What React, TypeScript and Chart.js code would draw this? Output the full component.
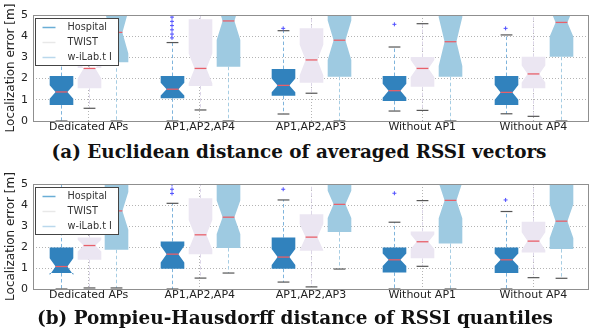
import React, { useEffect, useRef } from "react";
import { Chart, registerables } from "chart.js";

Chart.register(...registerables);
Chart.defaults.font.family = "'DejaVu Sans', sans-serif";

// ---------- data ----------
const categories = ["Dedicated APs", "AP1,AP2,AP4", "AP1,AP2,AP3", "Without AP1", "Without AP4"];
const seriesNames = ["Hospital", "TWIST", "w-iLab.t I"];
const yTickValues = [0, 1, 2, 3, 4, 5];
const yTitle = "Localization error [m]";
const captionA = "(a) Euclidean distance of averaged RSSI vectors";
const captionB = "(b) Pompieu-Hausdorff distance of RSSI quantiles";

// panel (a)
const aHospital = {
  low: [0.0, 0.0, 0.33, 0.47, 0.34],
  q1: [0.75, 1.07, 1.19, 0.94, 0.75],
  median: [1.37, 1.5, 1.68, 1.43, 1.35],
  q3: [2.12, 2.12, 2.45, 2.12, 2.12],
  high: [5.6, 3.7, 4.26, 3.49, 4.06],
  notch: [0.32, 0.3, 0.32, 0.33, 0.35],
};
const aHospitalFliers = [[], [3.92, 4.1, 4.3, 4.5, 4.7, 4.9], [4.37], [4.56], [4.37]];
const aTwist = {
  low: [0.6, 0.52, 1.31, 0.5, 0.22],
  q1: [1.54, 1.65, 1.81, 1.62, 1.54],
  median: [2.48, 2.48, 2.88, 2.48, 2.22],
  q3: [2.5, 4.8, 4.37, 3.02, 3.03],
  high: [3.5, 5.6, 5.6, 4.59, 5.2],
  notch: [0.47, 0.7, 0.72, 0.4, 0.4],
};
const aWilab = {
  low: [0.0, 0.0, 0.0, 0.0, 0.0],
  q1: [2.77, 2.56, 2.09, 2.09, 3.03],
  median: [4.18, 4.72, 3.81, 3.74, 4.65],
  q3: [5.8, 6.2, 5.6, 5.6, 6.0],
  high: [9, 9, 9, 9, 9],
  notch: [1.0, 0.9, 0.93, 1.15, 0.67],
};

// panel (b)
const bHospital = {
  low: [0.0, 0.0, 0.33, 0.0, 0.0],
  q1: [0.76, 0.97, 0.97, 0.79, 0.76],
  median: [1.07, 1.66, 1.52, 1.39, 1.39],
  q3: [1.98, 2.26, 2.45, 1.98, 1.98],
  high: [5.6, 4.08, 4.24, 3.18, 3.69],
  notch: [0.4, 0.4, 0.38, 0.3, 0.3],
};
const bHospitalFliers = [[], [4.55, 4.75, 4.98], [4.75], [4.56], [4.24]];
const bTwist = {
  low: [0.05, 0.52, 0.1, 1.08, 0.54],
  q1: [1.39, 1.66, 1.82, 1.46, 1.74],
  median: [2.07, 2.58, 2.47, 2.25, 2.28],
  q3: [2.45, 4.32, 3.56, 2.74, 3.2],
  high: [3.5, 5.6, 5.6, 4.21, 5.3],
  notch: [0.28, 0.7, 0.63, 0.35, 0.42],
};
const bWilab = {
  low: [0.05, 0.76, 0.95, 0.0, 0.51],
  q1: [1.87, 1.95, 2.71, 2.17, 1.9],
  median: [3.72, 3.42, 4.03, 4.22, 3.23],
  q3: [5.8, 5.9, 5.7, 6.0, 5.3],
  high: [9, 9, 9, 9, 9],
  notch: [0.9, 0.8, 0.65, 0.85, 0.8],
};

// ---------- styles ----------
const boxColors = ["#3182bd", "#ebe6f2", "#9ecae1"];
const whiskerColors = ["#7fb4dc", "#dcd6e8", "#a6cde3"];
const legendColors = ["#6aaed6", "#e8e8e8", "#bad8ec"];
const capColor = "#555555";
const medianColor = "#e8606a";
const flierColor = "#5050ff";
const gridColor = "#b4b4b4";
const frameColor = "#8f8f8f";
const textColor = "#222222";

type Stats = { low: number[]; q1: number[]; median: number[]; q3: number[]; high: number[]; notch: number[] };

const BOX_WIDTH = 0.85;
const posOf = (cat: number, s: number) => 4 * cat + 1 + s;

function makeBoxPlugin(stats: Stats[]) {
  return {
    id: "notchedBoxes",
    beforeDatasetsDraw(chart: any) {
      const { ctx, chartArea } = chart;
      const xs = chart.scales.x;
      const ys = chart.scales.y;
      const py = (v: number) => ys.getPixelForValue(v);
      ctx.save();
      ctx.beginPath();
      ctx.rect(chartArea.left, chartArea.top, chartArea.right - chartArea.left, chartArea.bottom - chartArea.top + 1);
      ctx.clip();
      const line = (x1: number, y1: number, x2: number, y2: number) => {
        ctx.beginPath();
        ctx.moveTo(x1, y1);
        ctx.lineTo(x2, y2);
        ctx.stroke();
      };
      stats.forEach((st, s) => {
        categories.forEach((_, i) => {
          const pos = posOf(i, s);
          const cx = Math.round(xs.getPixelForValue(pos)) + 0.5;
          const hw = (xs.getPixelForValue(pos + BOX_WIDTH / 2) - xs.getPixelForValue(pos - BOX_WIDTH / 2)) / 2;
          const lo = st.low[i], q1 = st.q1[i], med = st.median[i], q3 = st.q3[i], hi = st.high[i], n = st.notch[i];
          // whiskers
          ctx.lineWidth = 1;
          ctx.strokeStyle = whiskerColors[s];
          ctx.setLineDash([3.5, 2.5]);
          line(cx, py(q1), cx, py(lo));
          line(cx, py(q3), cx, py(hi));
          ctx.setLineDash([]);
          // caps
          ctx.strokeStyle = capColor;
          ctx.lineWidth = 1.2;
          line(cx - hw / 2, py(lo), cx + hw / 2, py(lo));
          line(cx - hw / 2, py(hi), cx + hw / 2, py(hi));
          // notched box
          const nlo = med - n, nhi = med + n;
          ctx.beginPath();
          ctx.moveTo(cx - hw, py(q1));
          ctx.lineTo(cx - hw, py(nlo));
          ctx.lineTo(cx - hw / 2, py(med));
          ctx.lineTo(cx - hw, py(nhi));
          ctx.lineTo(cx - hw, py(q3));
          ctx.lineTo(cx + hw, py(q3));
          ctx.lineTo(cx + hw, py(nhi));
          ctx.lineTo(cx + hw / 2, py(med));
          ctx.lineTo(cx + hw, py(nlo));
          ctx.lineTo(cx + hw, py(q1));
          ctx.closePath();
          ctx.fillStyle = boxColors[s];
          ctx.fill();
          // median
          ctx.strokeStyle = medianColor;
          ctx.lineWidth = 1.3;
          line(cx - hw / 2, py(med), cx + hw / 2, py(med));
        });
      });
      ctx.restore();
    },
    afterDatasetsDraw(chart: any) {
      const { ctx, chartArea } = chart;
      ctx.save();
      ctx.strokeStyle = frameColor;
      ctx.lineWidth = 1;
      ctx.strokeRect(chartArea.left + 0.5, chartArea.top + 0.5, chartArea.right - chartArea.left - 1, chartArea.bottom - chartArea.top);
      // legend
      const lx = chartArea.left + 2.5;
      const ly = chartArea.top + 3.5;
      const lw = 83;
      const lh = 47;
      ctx.fillStyle = "#ffffff";
      ctx.fillRect(lx, ly, lw, lh);
      ctx.strokeStyle = "#444444";
      ctx.strokeRect(lx, ly, lw, lh);
      ctx.font = "9.7px 'DejaVu Sans', sans-serif";
      ctx.textBaseline = "middle";
      ctx.textAlign = "left";
      seriesNames.forEach((name, k) => {
        const yy = ly + 9 + k * 15;
        ctx.strokeStyle = legendColors[k];
        ctx.lineWidth = 1.5;
        ctx.beginPath();
        ctx.moveTo(lx + 7, yy);
        ctx.lineTo(lx + 20, yy);
        ctx.stroke();
        ctx.fillStyle = "#333333";
        ctx.fillText(name, lx + 32, yy);
      });
      ctx.restore();
    },
  };
}

function makeConfig(stats: Stats[], fliers: number[][], axisHeight: number) {
  const flierPoints: { x: number; y: number }[] = [];
  fliers.forEach((vals, i) => vals.forEach((v) => flierPoints.push({ x: posOf(i, 0), y: v })));
  return {
    type: "scatter" as const,
    data: {
      datasets: [
        {
          label: seriesNames[0] + " outliers",
          data: flierPoints,
          pointStyle: "cross",
          radius: 2,
          borderColor: flierColor,
          backgroundColor: flierColor,
          borderWidth: 1,
          showLine: false,
        },
      ],
    },
    options: {
      responsive: false,
      animation: false as const,
      devicePixelRatio: 1,
      layout: { padding: { top: 15, right: 1, left: 0, bottom: 0 } },
      plugins: { legend: { display: false }, tooltip: { enabled: false } },
      scales: {
        x: {
          type: "linear" as const,
          min: 0,
          max: 20,
          afterBuildTicks: (sc: any) => {
            sc.ticks = categories.map((_, i) => ({ value: 4 * i + 2 }));
          },
          afterFit: (sc: any) => {
            sc.height = axisHeight;
          },
          ticks: {
            autoSkip: false,
            maxRotation: 0,
            minRotation: 0,
            padding: 0,
            color: textColor,
            font: { size: 11 },
            callback: (v: number) => categories[Math.round((v - 2) / 4)] ?? "",
          },
          grid: { color: gridColor, lineWidth: 1, drawTicks: false },
          border: { display: false, dash: [1, 2] },
        },
        y: {
          min: 0,
          max: 5,
          afterBuildTicks: (sc: any) => {
            sc.ticks = yTickValues.map((v) => ({ value: v }));
          },
          afterFit: (sc: any) => {
            sc.width = 33;
          },
          ticks: { padding: 5, color: textColor, font: { size: 11 } },
          grid: { color: gridColor, lineWidth: 1, drawTicks: false },
          border: { display: false, dash: [1, 2] },
          title: { display: true, text: yTitle, color: textColor, font: { size: 12 }, padding: { top: 4, bottom: 0 } },
        },
      },
    },
    plugins: [makeBoxPlugin(stats)],
  };
}

function BoxChart({ stats, fliers, top, axisHeight }: { stats: Stats[]; fliers: number[][]; top: number; axisHeight: number }) {
  const ref = useRef<HTMLCanvasElement>(null);
  useEffect(() => {
    const chart = new Chart(ref.current as HTMLCanvasElement, makeConfig(stats, fliers, axisHeight) as any);
    return () => chart.destroy();
  }, []);
  return (
    <canvas
      ref={ref}
      width={594}
      height={140}
      style={{ position: "absolute", left: 0, top, width: 594, height: 140 }}
    />
  );
}

const captionStyle = (top: number, center: number): React.CSSProperties => ({
  position: "absolute",
  left: center - 297,
  top,
  width: 594,
  textAlign: "center",
  fontFamily: "'DejaVu Serif', serif",
  fontWeight: "bold",
  fontSize: 18.4,
  lineHeight: "22px",
  color: "#111",
  whiteSpace: "nowrap",
});

export default function App() {
  return (
    <div style={{ position: "absolute", left: 0, top: 0, width: 594, height: 333, background: "#fff", overflow: "hidden" }}>
      <BoxChart stats={[aHospital, aTwist, aWilab]} fliers={aHospitalFliers} top={0} axisHeight={19} />
      <div style={captionStyle(141, 299)}>{captionA}</div>
      <BoxChart stats={[bHospital, bTwist, bWilab]} fliers={bHospitalFliers} top={169} axisHeight={20} />
      <div style={captionStyle(307, 295)}>{captionB}</div>
    </div>
  );
}
